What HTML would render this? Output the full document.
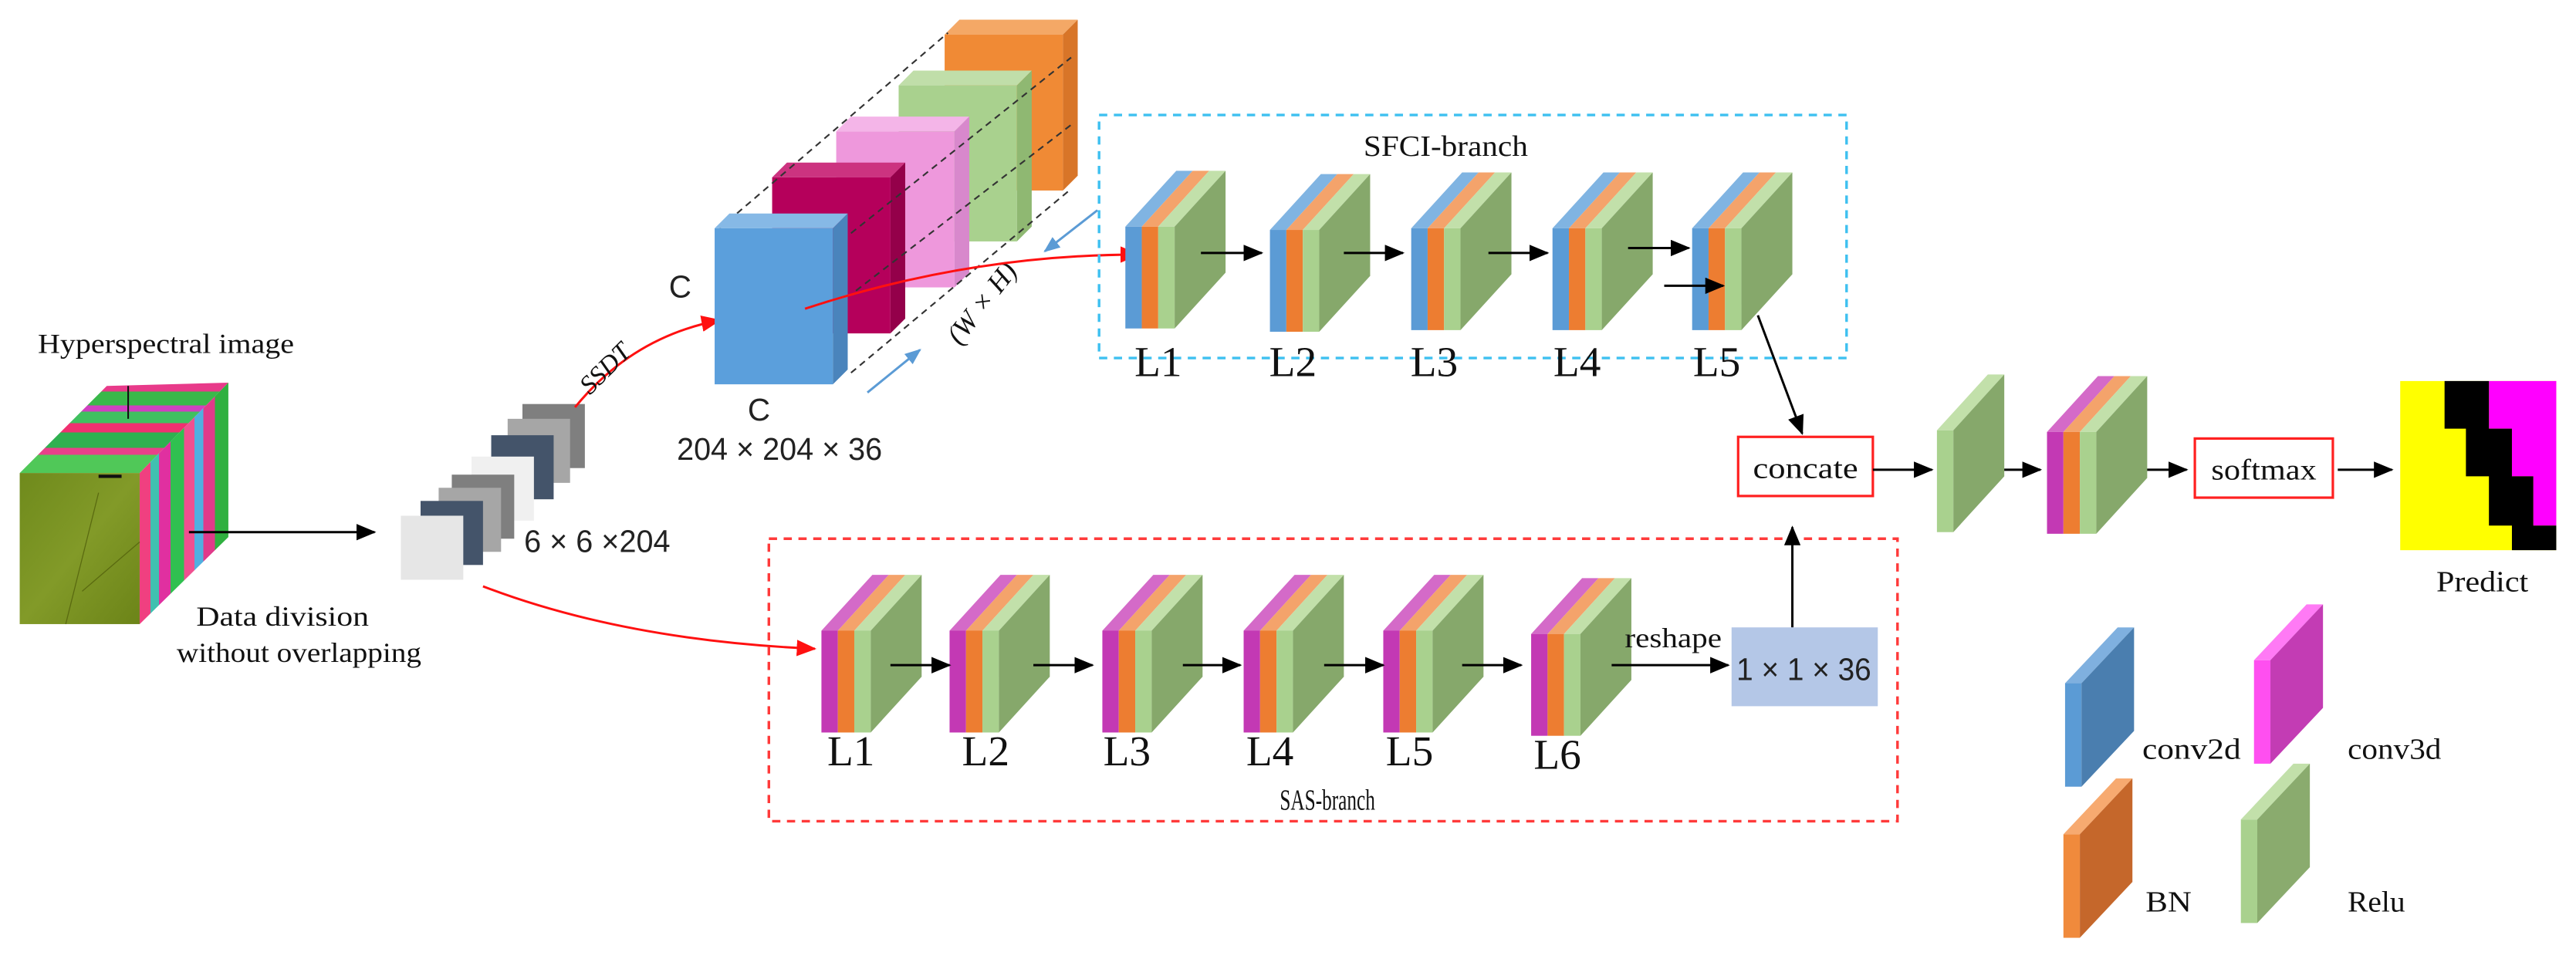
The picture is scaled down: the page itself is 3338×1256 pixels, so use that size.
<!DOCTYPE html>
<html><head><meta charset="utf-8"><style>
html,body{margin:0;padding:0;background:#fff;}
svg{display:block;}
.s{font-family:"Liberation Serif",serif;fill:#111;}
.a{font-family:"Liberation Sans",sans-serif;fill:#222;}
</style></head><body>
<svg width="3338" height="1256" viewBox="0 0 1568 590" xmlns="http://www.w3.org/2000/svg">
<defs>
<marker id="ab" markerUnits="userSpaceOnUse" markerWidth="12" markerHeight="10" refX="11" refY="5" orient="auto"><path d="M0,0 L12,5 L0,10 Z" fill="#000"/></marker>
<marker id="ar" markerUnits="userSpaceOnUse" markerWidth="12" markerHeight="10" refX="11" refY="5" orient="auto"><path d="M0,0 L12,5 L0,10 Z" fill="#ff1010"/></marker>
<marker id="au" markerUnits="userSpaceOnUse" markerWidth="10" markerHeight="8" refX="9" refY="4" orient="auto"><path d="M0,0 L10,4 L0,8 Z" fill="#5b9bd5"/></marker>
<linearGradient id="topS" x1="0" y1="0" x2="0" y2="1">
<stop offset="0" stop-color="#e83a8a"/><stop offset=".1" stop-color="#e83a8a"/><stop offset=".1" stop-color="#3ab84a"/><stop offset=".25" stop-color="#3ab84a"/><stop offset=".25" stop-color="#d040c0"/><stop offset=".32" stop-color="#d040c0"/><stop offset=".32" stop-color="#40c060"/><stop offset=".45" stop-color="#40c060"/><stop offset=".45" stop-color="#f03070"/><stop offset=".55" stop-color="#f03070"/><stop offset=".55" stop-color="#2fb050"/><stop offset=".72" stop-color="#2fb050"/><stop offset=".72" stop-color="#e8408a"/><stop offset=".8" stop-color="#e8408a"/><stop offset=".8" stop-color="#50c858"/><stop offset="1" stop-color="#50c858"/></linearGradient>
<linearGradient id="sideS" x1="0" y1="0" x2="1" y2="0">
<stop offset="0" stop-color="#f04080"/><stop offset=".12" stop-color="#f04080"/><stop offset=".12" stop-color="#40c0b0"/><stop offset=".22" stop-color="#40c0b0"/><stop offset=".22" stop-color="#e030a0"/><stop offset=".35" stop-color="#e030a0"/><stop offset=".35" stop-color="#30c050"/><stop offset=".5" stop-color="#30c050"/><stop offset=".5" stop-color="#f05090"/><stop offset=".62" stop-color="#f05090"/><stop offset=".62" stop-color="#50b0e0"/><stop offset=".72" stop-color="#50b0e0"/><stop offset=".72" stop-color="#e03a8a"/><stop offset=".85" stop-color="#e03a8a"/><stop offset=".85" stop-color="#30b040"/><stop offset="1" stop-color="#30b040"/></linearGradient>
<linearGradient id="olive" x1="0" y1="0" x2="1" y2="1"><stop offset="0" stop-color="#6f8a1c"/><stop offset=".5" stop-color="#829a28"/><stop offset="1" stop-color="#6c8418"/></linearGradient>
<g id="bo">
<polygon points="0,-62 31,-96 41,-96 10,-62" fill="#80b4e2"/><rect x="0" y="-62" width="10" height="62" fill="#5b9bd5"/>
<polygon points="10,-62 41,-96 51,-96 20,-62" fill="#f4a36b"/><rect x="10" y="-62" width="10" height="62" fill="#ed7d31"/>
<polygon points="20,-62 51,-96 61,-96 30,-62" fill="#c2e0aa"/><rect x="20" y="-62" width="10" height="62" fill="#a9d18e"/>
<polygon points="30,-62 61,-96 61,-34 30,0" fill="#86a86b"/>
</g>
<g id="mo">
<polygon points="0,-62 31,-96 41,-96 10,-62" fill="#d46ac8"/><rect x="0" y="-62" width="10" height="62" fill="#c339b4"/>
<polygon points="10,-62 41,-96 51,-96 20,-62" fill="#f4a36b"/><rect x="10" y="-62" width="10" height="62" fill="#ed7d31"/>
<polygon points="20,-62 51,-96 61,-96 30,-62" fill="#c2e0aa"/><rect x="20" y="-62" width="10" height="62" fill="#a9d18e"/>
<polygon points="30,-62 61,-96 61,-34 30,0" fill="#86a86b"/>
</g>
</defs>

<!-- Hyperspectral cube -->
<text class="s" x="23" y="215" font-size="17" textLength="156" lengthAdjust="spacingAndGlyphs">Hyperspectral image</text>
<polygon points="12,288 65,235 139,233 85,288" fill="url(#topS)"/>
<polygon points="85,288 139,233 139,327 85,380" fill="url(#sideS)"/>
<rect x="12" y="288" width="73" height="92" fill="url(#olive)"/>
<line x1="60" y1="300" x2="40" y2="380" stroke="#5a6a10" stroke-width="0.6"/>
<line x1="85" y1="330" x2="50" y2="360" stroke="#5a6a10" stroke-width="0.6"/>
<line x1="60" y1="290" x2="74" y2="290" stroke="#111" stroke-width="2"/>
<line x1="78" y1="235" x2="78" y2="255" stroke="#111" stroke-width="1"/>
<line x1="115" y1="324" x2="228" y2="324" stroke="#000" stroke-width="1.4" marker-end="url(#ab)"/>
<text class="s" x="172" y="381" font-size="17" text-anchor="middle" textLength="105" lengthAdjust="spacingAndGlyphs">Data division</text>
<text class="s" x="182" y="403" font-size="17" text-anchor="middle" textLength="149" lengthAdjust="spacingAndGlyphs">without overlapping</text>

<!-- small squares -->
<rect x="318" y="246" width="38" height="39" fill="#7f7f7f"/>
<rect x="309" y="255" width="38" height="39" fill="#a6a6a6"/>
<rect x="299" y="265" width="38" height="39" fill="#44546a"/>
<rect x="287" y="278" width="38" height="39" fill="#f0f0f0"/>
<rect x="275" y="289" width="38" height="39" fill="#7f7f7f"/>
<rect x="267" y="297" width="38" height="39" fill="#a6a6a6"/>
<rect x="256" y="305" width="38" height="39" fill="#44546a"/>
<rect x="244" y="314" width="38" height="39" fill="#e6e6e6"/>
<text class="a" x="319" y="336" font-size="19" textLength="89" lengthAdjust="spacingAndGlyphs">6 × 6 ×204</text>

<!-- SSDT -->
<path d="M350,248 Q385,205 438,195" fill="none" stroke="#ff1010" stroke-width="1.4" marker-end="url(#ar)"/>
<text class="s" font-style="italic" font-size="16" transform="translate(372,228) rotate(-45)" text-anchor="middle">SSDT</text>
<text class="a" x="414" y="181" font-size="19" text-anchor="middle">C</text>
<text class="a" x="462" y="256" font-size="19" text-anchor="middle">C</text>
<text class="a" x="412" y="280" font-size="19" textLength="125" lengthAdjust="spacingAndGlyphs">204 × 204 × 36</text>

<!-- big slabs -->
<g>
<polygon points="575,21 584,12 656,12 647,21" fill="#f4a866"/><rect x="575" y="21" width="72" height="95" fill="#f08a35"/><polygon points="647,21 656,12 656,107 647,116" fill="#d87528"/>
<polygon points="547,52 556,43 628,43 619,52" fill="#c0dea9"/><rect x="547" y="52" width="72" height="95" fill="#a9d18e"/><polygon points="619,52 628,43 628,138 619,147" fill="#8fb872"/>
<polygon points="509,80 518,71 590,71 581,80" fill="#f4b5e8"/><rect x="509" y="80" width="72" height="95" fill="#ee98dc"/><polygon points="581,80 590,71 590,166 581,175" fill="#d888cc"/>
<polygon points="470,108 479,99 551,99 542,108" fill="#cc3380"/><rect x="470" y="108" width="72" height="95" fill="#b5005b"/><polygon points="542,108 551,99 551,194 542,203" fill="#94004a"/>
</g>
<g stroke="#333" stroke-width="1" stroke-dasharray="4,3" fill="none">
<line x1="438" y1="139" x2="577" y2="20"/>
<line x1="518" y1="142" x2="652" y2="35"/>
<line x1="521" y1="177" x2="652" y2="76"/>
<line x1="518" y1="227" x2="652" y2="115"/>
</g>
<polygon points="435,139 444,130 516,130 507,139" fill="#86b9e6"/><rect x="435" y="139" width="72" height="95" fill="#5b9fdc"/><polygon points="507,139 516,130 516,225 507,234" fill="#4a84bc"/>
<line x1="528" y1="239" x2="560" y2="213" stroke="#5b9bd5" stroke-width="1.4" marker-end="url(#au)"/>
<line x1="668" y1="128" x2="636" y2="153" stroke="#5b9bd5" stroke-width="1.4" marker-end="url(#au)"/>
<text class="s" font-style="italic" font-size="17" transform="translate(602,188) rotate(-52)" text-anchor="middle">(W × H)</text>
<path d="M490,188 Q590,155 693,155" fill="none" stroke="#ff1010" stroke-width="1.4" marker-end="url(#ar)"/>

<!-- SFCI branch -->
<rect x="669" y="70" width="455" height="148" fill="none" stroke="#3ec0f0" stroke-width="1.6" stroke-dasharray="5,4"/>
<text class="s" x="830" y="95" font-size="18" textLength="100" lengthAdjust="spacingAndGlyphs">SFCI-branch</text>
<use href="#bo" transform="translate(685,200)"/>
<use href="#bo" transform="translate(773,202)"/>
<use href="#bo" transform="translate(859,201)"/>
<use href="#bo" transform="translate(945,201)"/>
<use href="#bo" transform="translate(1030,201)"/>
<g stroke="#000" stroke-width="1.4" marker-end="url(#ab)">
<line x1="731" y1="154" x2="768" y2="154"/>
<line x1="818" y1="154" x2="854" y2="154"/>
<line x1="906" y1="154" x2="942" y2="154"/>
<line x1="991" y1="151" x2="1028" y2="151"/>
<line x1="1013" y1="174" x2="1049" y2="174"/>
<line x1="1070" y1="192" x2="1097" y2="264"/>
</g>
<g class="s" font-size="26" text-anchor="middle">
<text x="705" y="229">L1</text><text x="787" y="229">L2</text><text x="873" y="229">L3</text><text x="960" y="229">L4</text><text x="1045" y="229">L5</text>
</g>

<!-- SAS branch -->
<rect x="468" y="328" width="687" height="172" fill="none" stroke="#ff3a3a" stroke-width="1.6" stroke-dasharray="5,4"/>
<path d="M294,357 Q380,390 496,395" fill="none" stroke="#ff1010" stroke-width="1.4" marker-end="url(#ar)"/>
<use href="#mo" transform="translate(500,446)"/>
<use href="#mo" transform="translate(578,446)"/>
<use href="#mo" transform="translate(671,446)"/>
<use href="#mo" transform="translate(757,446)"/>
<use href="#mo" transform="translate(842,446)"/>
<use href="#mo" transform="translate(932,448)"/>
<g stroke="#000" stroke-width="1.4" marker-end="url(#ab)">
<line x1="542" y1="405" x2="578" y2="405"/>
<line x1="629" y1="405" x2="665" y2="405"/>
<line x1="720" y1="405" x2="755" y2="405"/>
<line x1="806" y1="405" x2="842" y2="405"/>
<line x1="890" y1="405" x2="926" y2="405"/>
<line x1="981" y1="405" x2="1052" y2="405"/>
<line x1="1091" y1="382" x2="1091" y2="321"/>
</g>
<g class="s" font-size="26" text-anchor="middle">
<text x="518" y="466">L1</text><text x="600" y="466">L2</text><text x="686" y="466">L3</text><text x="773" y="466">L4</text><text x="858" y="466">L5</text><text x="948" y="468">L6</text>
</g>
<text class="s" x="808" y="493" font-size="18" text-anchor="middle" textLength="58" lengthAdjust="spacingAndGlyphs">SAS-branch</text>
<text class="s" x="989" y="394" font-size="17" textLength="59" lengthAdjust="spacingAndGlyphs">reshape</text>
<rect x="1054" y="382" width="89" height="48" fill="#b4c7e7"/>
<text class="a" x="1098" y="414" font-size="19" text-anchor="middle" textLength="82" lengthAdjust="spacingAndGlyphs">1 × 1 × 36</text>

<!-- head -->
<rect x="1058" y="266" width="82" height="36" fill="#fff" stroke="#ff2020" stroke-width="1.5"/>
<text class="s" x="1099" y="291" font-size="18" text-anchor="middle" textLength="64" lengthAdjust="spacingAndGlyphs">concate</text>
<g stroke="#000" stroke-width="1.4" marker-end="url(#ab)">
<line x1="1140" y1="286" x2="1176" y2="286"/>
<line x1="1205" y1="286" x2="1242" y2="286"/>
<line x1="1295" y1="286" x2="1331" y2="286"/>
<line x1="1423" y1="286" x2="1456" y2="286"/>
</g>
<polygon points="1179,262 1210,228 1220,228 1189,262" fill="#c2e0aa"/><rect x="1179" y="262" width="10" height="62" fill="#a9d18e"/><polygon points="1189,262 1220,228 1220,290 1189,324" fill="#86a86b"/>
<use href="#mo" transform="translate(1246,325)"/>
<rect x="1336" y="267" width="84" height="36" fill="#fff" stroke="#ff2020" stroke-width="1.5"/>
<text class="s" x="1378" y="292" font-size="18" text-anchor="middle" textLength="64" lengthAdjust="spacingAndGlyphs">softmax</text>

<!-- predict -->
<rect x="1461" y="232" width="95" height="103" fill="#ffff00"/>
<polygon points="1515,232 1556,232 1556,320 1542,320 1542,290 1529,290 1529,261 1515,261" fill="#ff00ff"/>
<polygon points="1488,232 1515,232 1515,261 1529,261 1529,290 1542,290 1542,320 1556,320 1556,335 1529,335 1529,320 1515,320 1515,290 1501,290 1501,261 1488,261" fill="#000"/>
<text class="s" x="1511" y="360" font-size="18" text-anchor="middle" textLength="56" lengthAdjust="spacingAndGlyphs">Predict</text>

<!-- legend -->
<polygon points="1257,416 1289,382 1299,382 1267,416" fill="#7fb0df"/><rect x="1257" y="416" width="10" height="63" fill="#5b9bd5"/><polygon points="1267,416 1299,382 1299,445 1267,479" fill="#4a7eaf"/>
<polygon points="1372,402 1404,368 1414,368 1382,402" fill="#ff7af5"/><rect x="1372" y="402" width="10" height="63" fill="#ff4ff0"/><polygon points="1382,402 1414,368 1414,431 1382,465" fill="#c33cb4"/>
<polygon points="1256,508 1288,474 1298,474 1266,508" fill="#f7aa70"/><rect x="1256" y="508" width="10" height="63" fill="#f08a3c"/><polygon points="1266,508 1298,474 1298,537 1266,571" fill="#c5672b"/>
<polygon points="1364,499 1396,465 1406,465 1374,499" fill="#c2e0aa"/><rect x="1364" y="499" width="10" height="63" fill="#a9d18e"/><polygon points="1374,499 1406,465 1406,528 1374,562" fill="#8aab6e"/>
<text class="s" x="1304" y="462" font-size="18" textLength="60" lengthAdjust="spacingAndGlyphs">conv2d</text>
<text class="s" x="1429" y="462" font-size="18" textLength="57" lengthAdjust="spacingAndGlyphs">conv3d</text>
<text class="s" x="1306" y="555" font-size="18" textLength="28" lengthAdjust="spacingAndGlyphs">BN</text>
<text class="s" x="1429" y="555" font-size="18" textLength="35" lengthAdjust="spacingAndGlyphs">Relu</text>
</svg>
</body></html>
